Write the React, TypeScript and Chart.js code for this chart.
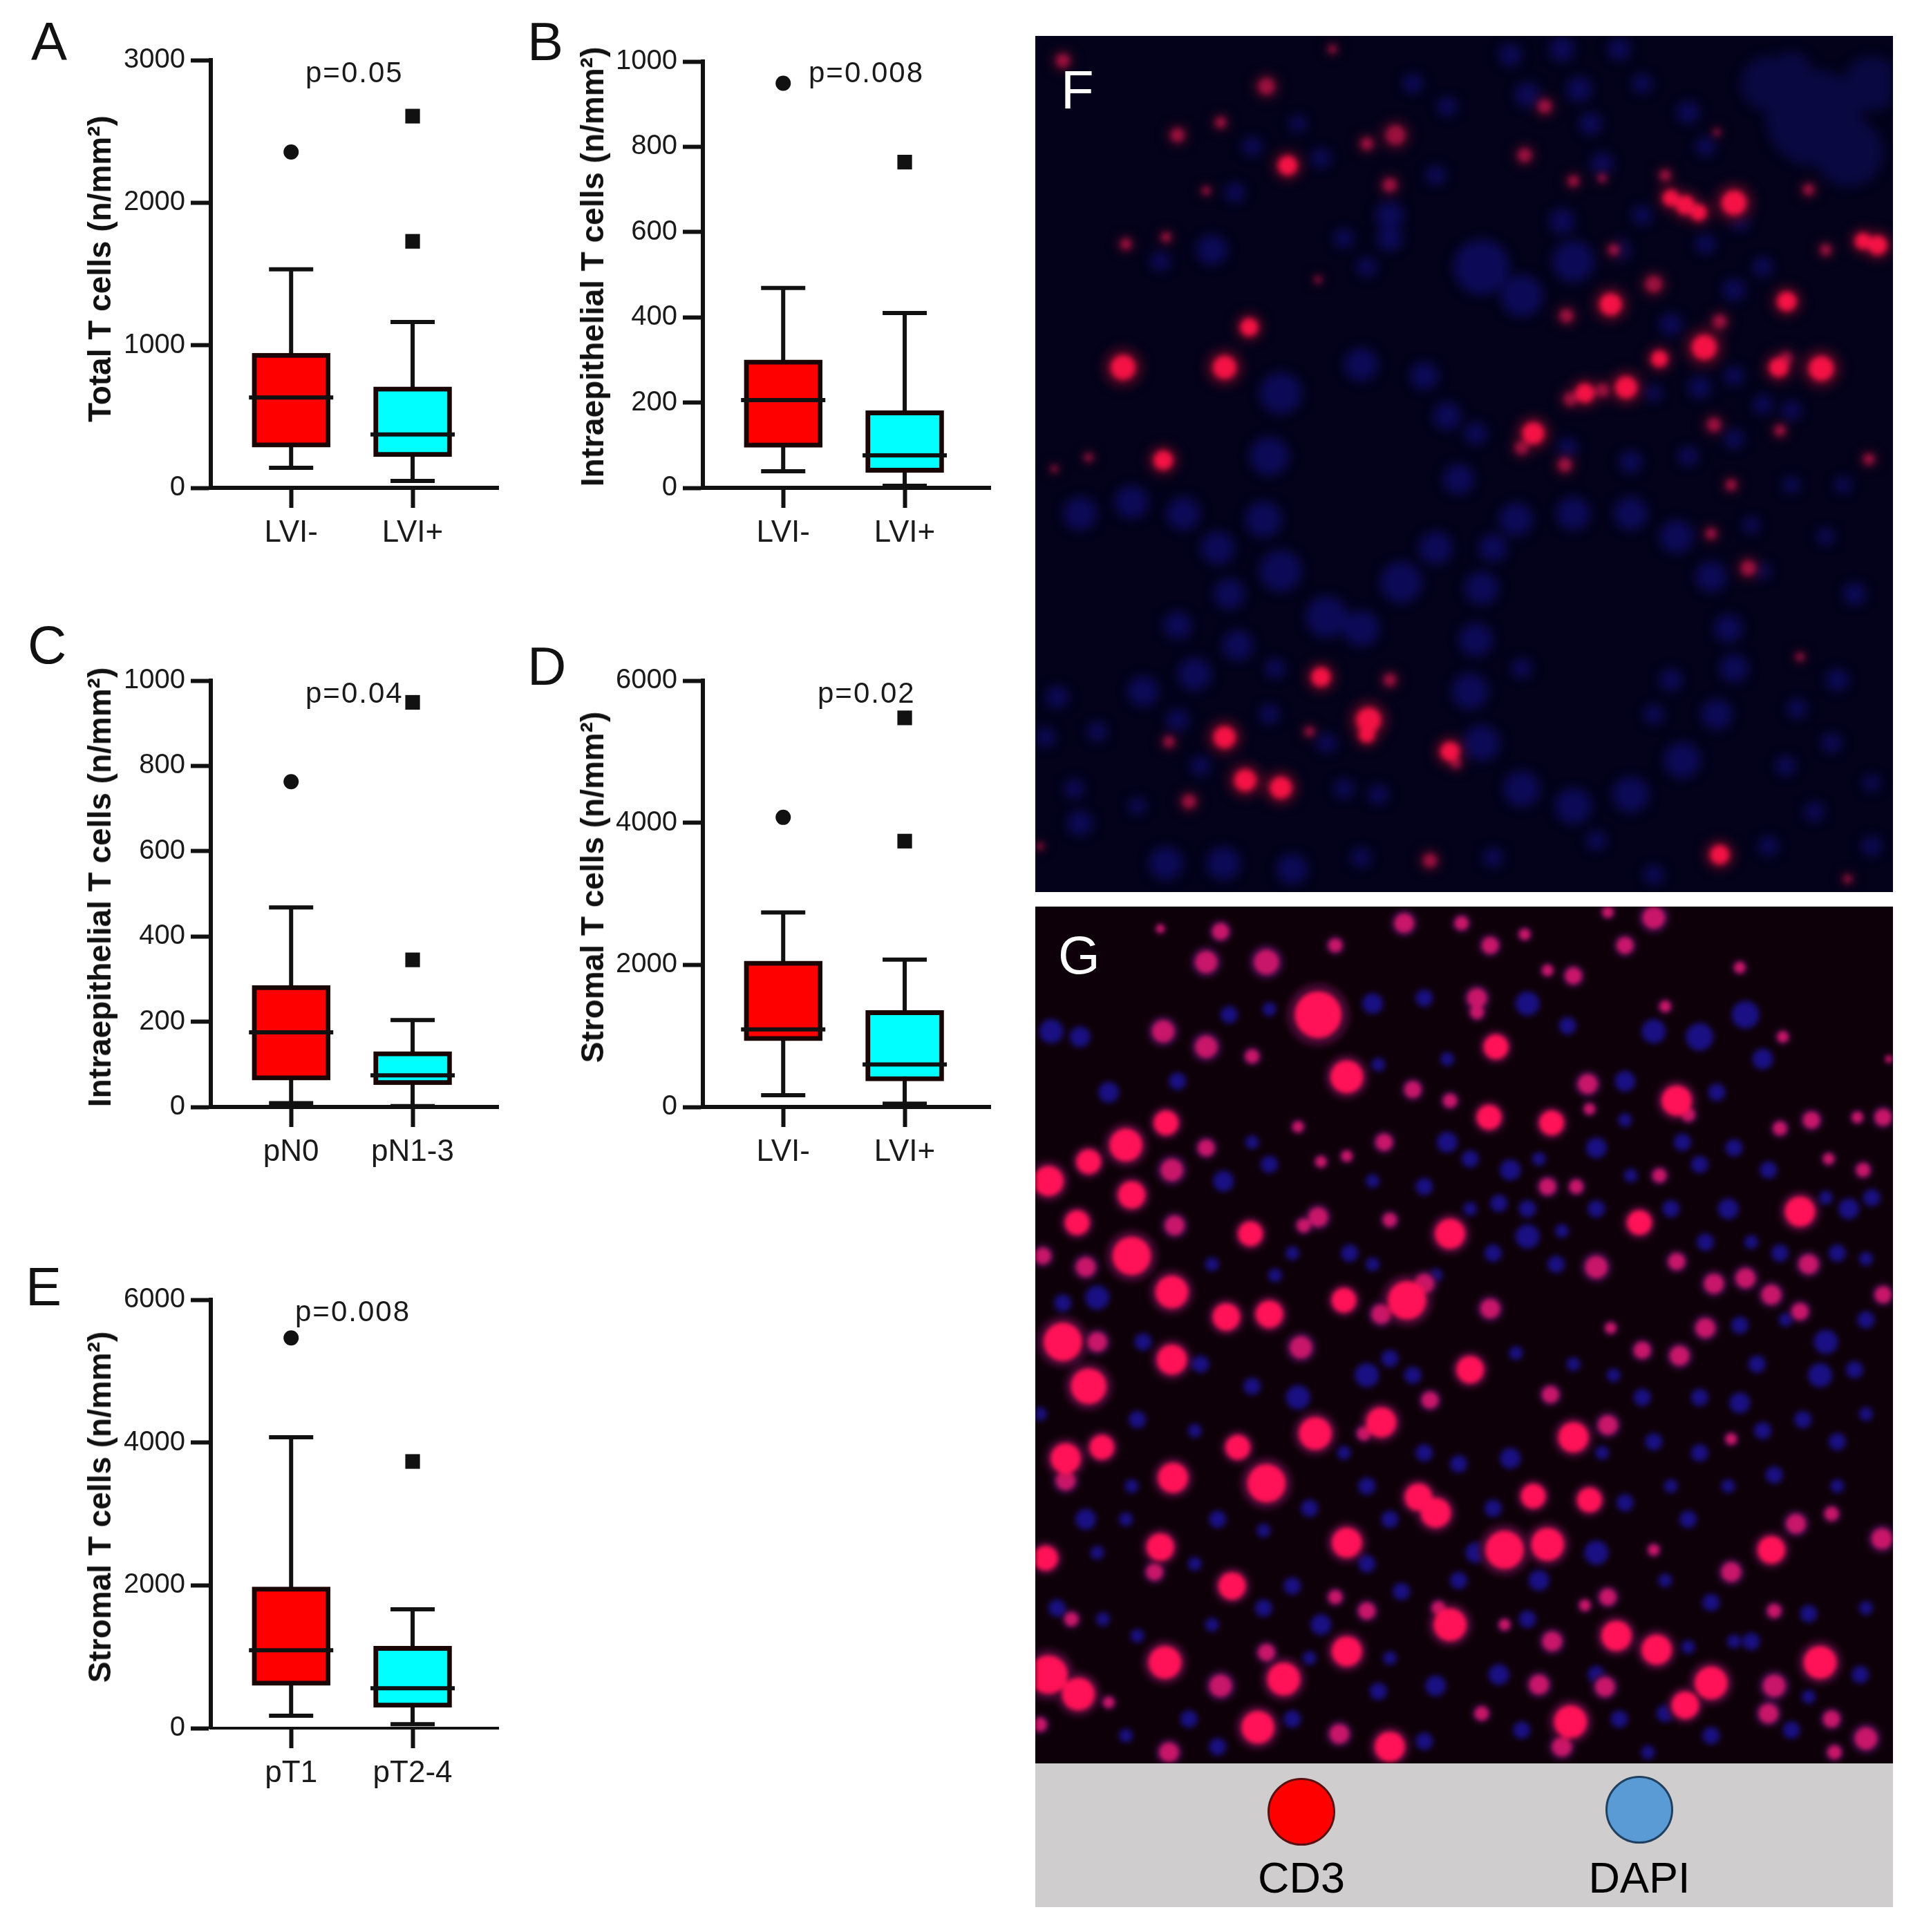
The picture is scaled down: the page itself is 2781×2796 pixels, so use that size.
import React, { useEffect, useRef } from "react";
import { Chart, registerables } from "chart.js";

Chart.register(...registerables);

// values, one small list per statistic
const aLabels = ["LVI-", "LVI+"];
const aLow = [141, 49];
const aQ1 = [285, 218];
const aMedian = [634, 375];
const aQ3 = [945, 709];
const aHigh = [1533, 1163];
const aOutliers = [[2355], [2607, 1729]];

const bLabels = ["LVI-", "LVI+"];
const bLow = [39, 5];
const bQ1 = [95, 36];
const bMedian = [206, 76];
const bQ3 = [300, 181];
const bHigh = [469, 410];
const bOutliers = [[949], [764]];

const cLabels = ["pN0", "pN1-3"];
const cLow = [9, 2];
const cQ1 = [63, 52];
const cMedian = [175, 74];
const cQ3 = [285, 130];
const cHigh = [468, 204];
const cOutliers = [[763], [949, 345]];

const dLabels = ["LVI-", "LVI+"];
const dLow = [165, 46];
const dQ1 = [931, 365];
const dMedian = [1091, 597];
const dQ3 = [2053, 1359];
const dHigh = [2738, 2074];
const dOutliers = [[4076], [5476, 3741]];

const eLabels = ["pT1", "pT2-4"];
const eLow = [174, 56];
const eQ1 = [599, 292];
const eMedian = [1091, 558];
const eQ3 = [1978, 1148];
const eHigh = [4073, 1665];
const eOutliers = [[5466], [3735]];

// stained cells of the two micrographs: [x, y, r]
const fBright = [
  [1240, 318, 18], [1332, 490, 14], [1130, 310, 12], [1155, 322, 14], [1178, 335, 12], [1465, 385, 12],
  [1490, 392, 14], [462, 253, 14], [352, 605, 17], [175, 605, 18], [245, 767, 14], [1025, 495, 16],
  [1188, 570, 18], [1318, 605, 14], [1392, 607, 18], [1052, 640, 16], [980, 650, 14], [890, 720, 16],
  [1110, 590, 12], [603, 1220, 18], [600, 1245, 12], [745, 1275, 14], [520, 1145, 14], [352, 1250, 16],
  [388, 1325, 16], [450, 1338, 16], [1215, 1455, 14], [395, 535, 13],
];
const fDim = [
  [1330, 590, 10], [955, 660, 10], [1010, 645, 10], [870, 745, 10], [948, 515, 10], [755, 1295, 8],
  [290, 1362, 10], [1265, 955, 11], [710, 1465, 10], [640, 287, 10], [910, 150, 10], [875, 235, 10],
  [425, 115, 12], [650, 200, 14], [1200, 895, 8], [1100, 460, 12], [1215, 525, 10], [1370, 295, 8],
  [1400, 400, 8], [1205, 705, 10], [1320, 715, 8], [1235, 810, 8], [1475, 765, 8], [945, 775, 10],
  [345, 178, 8], [250, 378, 7], [115, 762, 6], [55, 782, 5], [515, 452, 5], [320, 297, 6],
  [1210, 195, 5], [1120, 270, 8], [1030, 400, 8], [960, 280, 8], [1010, 275, 6], [600, 215, 9],
  [270, 200, 10], [180, 390, 8], [640, 1150, 9], [500, 1240, 7], [255, 1258, 8], [1438, 1497, 6],
  [1355, 1110, 6], [30, 1440, 5], [70, 70, 10], [540, 50, 6],
];
const fPatch = [
  [1380, 170, 70], [1440, 230, 50], [1300, 110, 40], [1480, 110, 40], [1340, 90, 30],
];
const fNuclei = [
  [850, 60, 16],
  [940, 50, 18], [1040, 50, 16], [970, 120, 18], [880, 130, 18], [990, 180, 16], [1080, 110, 14],
  [1160, 160, 16], [1190, 220, 14], [680, 110, 14], [740, 150, 14], [720, 270, 14], [640, 340, 20],
  [560, 380, 14], [330, 400, 22], [240, 420, 14], [370, 300, 14], [400, 220, 14], [480, 180, 12],
  [520, 240, 14], [600, 430, 14], [640, 380, 18], [1010, 250, 16], [940, 350, 18], [1040, 400, 16],
  [960, 420, 30], [800, 430, 40], [870, 480, 30], [1080, 340, 14], [1190, 390, 14], [1250, 350, 14],
  [1290, 430, 14], [1240, 470, 16], [1130, 530, 16], [1240, 620, 14], [1180, 640, 16], [1290, 670, 14],
  [1340, 680, 14], [1100, 650, 12], [1060, 770, 16], [950, 745, 14], [1160, 760, 14], [1240, 730, 14],
  [1270, 880, 12], [1290, 960, 12], [1340, 810, 12], [1430, 810, 12], [1400, 900, 12], [1450, 1000, 16],
  [790, 720, 16], [450, 650, 30], [590, 600, 24], [430, 760, 28], [420, 870, 26], [450, 960, 30],
  [530, 1040, 30], [590, 1060, 26], [660, 980, 30], [720, 920, 24], [760, 800, 22], [740, 690, 20],
  [700, 620, 20], [100, 860, 24], [190, 840, 24], [280, 860, 24], [340, 920, 24], [360, 1000, 22],
  [375, 1090, 22], [270, 1055, 20], [60, 1180, 16], [210, 1170, 22], [300, 1140, 24], [270, 1220, 16],
  [40, 1250, 14], [130, 1240, 14], [310, 1300, 14], [860, 870, 24], [960, 860, 24], [1060, 860, 24],
  [1140, 900, 24], [1200, 970, 22], [1230, 1060, 20], [1240, 1130, 20], [1210, 1210, 22], [1150, 1290, 26],
  [1060, 1350, 26], [960, 1370, 26], [870, 1340, 26], [800, 1260, 26], [780, 1170, 26], [790, 1080, 24],
  [800, 990, 24], [820, 920, 20], [870, 1130, 14], [1130, 1150, 16], [1100, 1210, 14], [1350, 1200, 14],
  [1420, 1150, 16], [1330, 1300, 14], [1410, 1260, 14], [1480, 1330, 12], [1380, 1380, 14], [100, 1400, 18],
  [200, 1370, 12], [90, 1340, 14], [250, 1470, 24], [350, 1470, 24], [470, 1480, 22], [590, 1460, 14],
  [620, 1350, 14], [560, 1340, 14], [820, 1460, 14], [1000, 1430, 14], [1100, 1490, 14], [1300, 1440, 14],
  [1480, 1440, 14], [530, 1260, 14], [430, 1210, 14], [440, 1130, 14],
];

const gBright = [
  [515, 210, 34], [565, 322, 24], [250, 405, 18], [115, 475, 18], [180, 445, 24], [45, 510, 22],
  [190, 535, 20], [95, 585, 18], [397, 605, 18], [190, 645, 28], [260, 710, 24], [70, 800, 28],
  [260, 832, 22], [115, 880, 26], [355, 755, 20], [430, 750, 20], [560, 725, 18], [670, 725, 28],
  [780, 850, 20], [510, 965, 24], [625, 945, 22], [375, 990, 18], [425, 1055, 28], [262, 1045, 22],
  [75, 1010, 22], [138, 990, 18], [690, 1080, 20], [720, 1108, 22], [565, 1162, 22], [840, 1175, 28],
  [915, 1165, 24], [890, 1078, 18], [988, 1085, 18], [960, 972, 22], [1305, 1175, 20], [365, 1240, 20],
  [240, 1170, 20], [40, 1190, 18], [745, 1310, 24], [1035, 1330, 22], [1105, 1355, 22], [1390, 1378, 24],
  [1200, 1415, 24], [1155, 1455, 20], [955, 1485, 24], [565, 1358, 22], [455, 1408, 24], [248, 1378, 24],
  [45, 1400, 28], [97, 1435, 24], [410, 1495, 24], [640, 1530, 22], [813, 395, 18], [922, 405, 18],
  [1140, 365, 22], [825, 268, 18], [1075, 585, 18], [1355, 565, 22], [745, 605, 22],
];
const gMid = [
  [320, 115, 16], [425, 115, 18], [245, 240, 16], [320, 268, 16], [260, 490, 16], [265, 590, 14],
  [35, 645, 12], [110, 665, 14], [130, 800, 14], [485, 810, 16], [700, 695, 14], [625, 750, 14],
  [815, 740, 14], [595, 965, 10], [75, 1050, 14], [1020, 950, 14], [1348, 1128, 14], [1498, 1155, 15],
  [1235, 1215, 14], [230, 1215, 12], [725, 1280, 10], [940, 1530, 14], [1310, 1420, 16], [1410, 1480, 12],
  [345, 1420, 16], [552, 1507, 14], [800, 1470, 10], [1470, 1515, 16], [1415, 1540, 10], [900, 1418, 14],
  [1015, 1422, 14], [923, 1340, 14], [1300, 1470, 14], [425, 1360, 12], [545, 1260, 10], [600, 1285, 12],
  [85, 1300, 10], [150, 1450, 8], [255, 1540, 14], [30, 1490, 10], [985, 335, 14], [988, 380, 8],
  [1160, 390, 10], [680, 345, 12], [745, 365, 10], [792, 180, 14], [792, 205, 10], [915, 520, 12],
  [965, 520, 10], [1110, 500, 10], [1370, 660, 14], [1500, 715, 12], [1305, 715, 14], [1355, 745, 12],
  [1260, 685, 14], [1205, 695, 14], [1000, 665, 16], [1140, 655, 12], [1190, 775, 14], [1145, 825, 14],
  [1080, 815, 12], [1025, 775, 8], [920, 895, 12], [710, 905, 12], [515, 575, 14], [490, 590, 10],
  [640, 580, 10], [630, 440, 12], [480, 412, 8], [565, 465, 8], [520, 475, 8], [1375, 400, 12],
  [1320, 415, 10], [1500, 395, 12], [1455, 395, 8], [1250, 125, 8], [1325, 250, 8], [1510, 290, 5],
  [1050, 85, 12], [1100, 35, 16], [1020, 25, 8], [875, 65, 8], [815, 85, 12], [765, 45, 10],
  [665, 45, 14], [545, 85, 10], [345, 60, 12], [240, 55, 6], [960, 140, 12], [915, 130, 8],
  [1120, 195, 8], [400, 285, 10], [320, 450, 12], [1465, 490, 10], [1405, 470, 8], [1235, 975, 8],
  [1310, 1285, 10], [1410, 1110, 10], [1100, 1175, 8], [1020, 1260, 12], [980, 1275, 8], [840, 1310, 8],
];
const gNuclei = [
  [100, 250, 12], [50, 240, 14], [150, 350, 12], [270, 330, 10], [360, 210, 10], [430, 200, 8],
  [610, 190, 12], [700, 180, 10], [620, 300, 8], [740, 290, 8], [880, 190, 14], [950, 230, 10],
  [1050, 330, 12], [1100, 240, 14], [1180, 250, 16], [1260, 210, 16], [1290, 290, 12], [1210, 350, 10],
  [1240, 450, 10], [1180, 480, 10], [1300, 490, 10], [1230, 560, 12], [1000, 450, 12], [1050, 400, 8],
  [850, 490, 12], [880, 610, 14], [830, 550, 10], [930, 660, 10], [780, 470, 10], [740, 440, 12],
  [700, 520, 10], [610, 510, 8], [430, 480, 10], [400, 440, 8], [350, 510, 12], [330, 660, 8],
  [440, 680, 8], [470, 640, 8], [570, 640, 10], [610, 660, 8], [130, 720, 14], [70, 730, 10],
  [210, 800, 10], [310, 840, 10], [400, 880, 10], [480, 900, 14], [600, 860, 14], [680, 860, 10],
  [640, 830, 10], [860, 820, 8], [960, 840, 8], [1030, 860, 8], [1250, 770, 10], [1400, 800, 14],
  [1470, 760, 10], [1390, 860, 14], [1250, 910, 12], [1290, 960, 10], [1420, 980, 10], [1100, 980, 10],
  [850, 1010, 12], [760, 1020, 10], [600, 1060, 10], [500, 1100, 10], [340, 1120, 10], [110, 1120, 12],
  [190, 1060, 8], [820, 1100, 10], [790, 1180, 12], [1000, 1180, 14], [900, 1230, 12], [1160, 1120, 10],
  [1200, 1270, 10], [1120, 1230, 8], [1270, 1340, 10], [760, 1230, 10], [660, 1250, 10], [520, 1310, 12],
  [140, 1300, 8], [200, 1330, 8], [290, 1480, 10], [180, 1510, 8], [470, 1480, 10], [720, 1420, 12],
  [620, 1430, 10], [830, 1400, 12], [1040, 1480, 10], [1120, 1470, 10], [1340, 1500, 10], [1200, 1510, 10],
  [500, 1370, 8], [880, 560, 10], [900, 470, 8], [940, 600, 8], [820, 640, 10], [780, 560, 8],
  [720, 680, 8], [1000, 560, 10], [1060, 500, 8], [1150, 440, 10], [1130, 560, 10], [1190, 620, 10],
  [1270, 620, 8], [1320, 640, 10], [1420, 640, 10], [1470, 650, 8], [1440, 560, 12], [1480, 540, 10],
  [1400, 540, 8], [1280, 840, 10], [1330, 760, 8], [1450, 850, 10], [1470, 930, 8], [1360, 940, 10],
  [1180, 900, 10], [1080, 900, 10], [1010, 1000, 8], [1180, 1000, 10], [1310, 1040, 10], [1420, 1060, 8],
  [1230, 1060, 8], [1130, 1060, 8], [1050, 1090, 10], [640, 1120, 10], [560, 1000, 8], [700, 1000, 10],
  [300, 960, 8], [200, 940, 10], [30, 930, 8], [180, 1120, 8], [420, 1140, 8], [470, 1240, 10],
  [600, 1200, 10], [300, 1200, 8], [130, 1180, 8], [60, 1280, 10], [330, 1310, 8], [420, 1280, 10],
  [640, 1370, 8], [880, 1300, 10], [1000, 1400, 10], [1160, 1350, 8], [1240, 1340, 8], [1370, 1290, 10],
  [1470, 1280, 8], [1460, 1400, 10], [1370, 1440, 8], [700, 1520, 10], [870, 1500, 10], [1090, 1540, 8],
  [340, 1530, 10],
];

const FONT = '"Liberation Sans", Arial, sans-serif';
const INK = "#111";

const panels = [
  { labels: aLabels, low: aLow, q1: aQ1, median: aMedian, q3: aQ3, high: aHigh, outliers: aOutliers, max: 3000, step: 1000, axisX: 305, top: 87, height: 619, xAxisWidth: 6 },
  { labels: bLabels, low: bLow, q1: bQ1, median: bMedian, q3: bQ3, high: bHigh, outliers: bOutliers, max: 1000, step: 200, axisX: 1017, top: 89, height: 617, xAxisWidth: 6 },
  { labels: cLabels, low: cLow, q1: cQ1, median: cMedian, q3: cQ3, high: cHigh, outliers: cOutliers, max: 1000, step: 200, axisX: 305, top: 985, height: 617, xAxisWidth: 6 },
  { labels: dLabels, low: dLow, q1: dQ1, median: dMedian, q3: dQ3, high: dHigh, outliers: dOutliers, max: 6000, step: 2000, axisX: 1017, top: 985, height: 617, xAxisWidth: 6 },
  { labels: eLabels, low: eLow, q1: eQ1, median: eMedian, q3: eQ3, high: eHigh, outliers: eOutliers, max: 6000, step: 2000, axisX: 305, top: 1881, height: 620, xAxisWidth: 4 },
];

const yTitles = [
  { text: "Total T cells (n/mm²)", x: 144, y: 389 },
  { text: "Intraepithelial T cells (n/mm²)", x: 857, y: 386 },
  { text: "Intraepithelial T cells (n/mm²)", x: 144, y: 1284 },
  { text: "Stromal T cells (n/mm²)", x: 857, y: 1284 },
  { text: "Stromal T cells (n/mm²)", x: 144, y: 2181 },
];

const pValues = [
  { text: "p=0.05", x: 442, y: 119 },
  { text: "p=0.008", x: 1170, y: 119 },
  { text: "p=0.04", x: 442, y: 1017 },
  { text: "p=0.02", x: 1183, y: 1017 },
  { text: "p=0.008", x: 427, y: 1912 },
];

const letters = [
  { text: "A", x: 45, y: 86, color: "#111" },
  { text: "B", x: 763, y: 86, color: "#111" },
  { text: "C", x: 40, y: 959, color: "#111" },
  { text: "D", x: 763, y: 990, color: "#111" },
  { text: "E", x: 37, y: 1888, color: "#111" },
  { text: "F", x: 1535, y: 156, color: "#fff" },
  { text: "G", x: 1531, y: 1408, color: "#fff" },
];

const PLOT_WIDTH = 416;
const Y_AXIS_WIDTH = 150;
const PAD_TOP = 30;
const PAD_RIGHT = 20;
const X_AXIS_HEIGHT = 100;

const clearPadding = (axis: any) => {
  axis.paddingLeft = 0;
  axis.paddingRight = 0;
  axis.paddingTop = 0;
  axis.paddingBottom = 0;
};

const BoxPanel = ({ panel }: { panel: any }) => {
  const ref = useRef<HTMLCanvasElement | null>(null);

  useEffect(() => {
    if (!ref.current) return;
    const cats = [1, 2];

    const chart = new Chart(ref.current, {
      type: "bar",
      data: {
        datasets: [
          {
            type: "scatter",
            data: cats.map((c, i) => ({ x: c, y: panel.median[i] })),
            pointStyle: "line",
            pointRadius: 61,
            pointBorderWidth: 6,
            pointBorderColor: INK,
            order: 0,
            clip: false,
          },
          {
            type: "bar",
            data: cats.map((c, i) => ({ x: c, y: [panel.q1[i], panel.q3[i]] })),
            backgroundColor: ["#ff0000", "#00ffff"],
            borderColor: "#1a0505",
            borderWidth: 7,
            borderSkipped: false,
            barThickness: 113,
            order: 1,
          },
          {
            type: "scatter",
            data: panel.outliers[0].map((v: number) => ({ x: 1, y: v })),
            pointStyle: "circle",
            pointRadius: 11,
            pointBackgroundColor: INK,
            pointBorderWidth: 0,
            order: 2,
          },
          {
            type: "scatter",
            data: panel.outliers[1].map((v: number) => ({ x: 2, y: v })),
            pointStyle: "rect",
            pointRadius: 15,
            pointBackgroundColor: INK,
            pointBorderWidth: 0,
            order: 2,
          },
          {
            type: "scatter",
            data: cats.flatMap((c, i) => [
              { x: c, y: panel.low[i] },
              { x: c, y: panel.high[i] },
            ]),
            pointStyle: "line",
            pointRadius: 32,
            pointBorderWidth: 6,
            pointBorderColor: INK,
            order: 3,
            clip: false,
          },
          ...cats.map((c, i) => ({
            type: "line" as const,
            data: [
              { x: c, y: panel.low[i] },
              { x: c, y: panel.high[i] },
            ],
            borderColor: INK,
            borderWidth: 6,
            pointRadius: 0,
            order: 4,
            clip: false,
          })),
        ] as any,
      },
      options: {
        animation: false,
        responsive: false,
        devicePixelRatio: 1,
        events: [],
        layout: { autoPadding: false, padding: { left: 0, top: PAD_TOP, right: PAD_RIGHT, bottom: 0 } },
        plugins: { legend: { display: false }, tooltip: { enabled: false } },
        scales: {
          x: {
            type: "linear",
            offset: false,
            min: 0.339,
            max: 2.705,
            afterBuildTicks: (axis: any) => {
              axis.ticks = cats.map((value) => ({ value }));
            },
            afterFit: (axis: any) => {
              axis.height = X_AXIS_HEIGHT;
              clearPadding(axis);
            },
            grid: {
              offset: false,
              drawOnChartArea: false,
              tickLength: 29,
              tickWidth: 6,
              tickColor: INK,
            },
            border: { display: true, color: INK, width: panel.xAxisWidth },
            ticks: {
              autoSkip: false,
              maxRotation: 0,
              minRotation: 0,
              padding: 10,
              color: "#1a1a1a",
              font: { family: FONT, size: 44 },
              callback: (value: any) => panel.labels[Number(value) - 1] ?? "",
            },
          },
          y: {
            min: 0,
            max: panel.max,
            afterFit: (axis: any) => {
              axis.width = Y_AXIS_WIDTH;
              clearPadding(axis);
            },
            grid: {
              drawOnChartArea: false,
              tickLength: 29,
              tickWidth: 6,
              tickColor: INK,
            },
            border: { display: true, color: INK, width: 6 },
            ticks: {
              stepSize: panel.step,
              padding: 8,
              color: "#1a1a1a",
              font: { family: FONT, size: 40 },
              callback: (value: any) => String(value),
            },
          },
        },
      } as any,
    });

    return () => {
      chart.destroy();
    };
  }, [panel]);

  return (
    <canvas
      ref={ref}
      width={Y_AXIS_WIDTH + PLOT_WIDTH + PAD_RIGHT}
      height={panel.height + PAD_TOP + X_AXIS_HEIGHT}
      style={{ position: "absolute", left: panel.axisX - Y_AXIS_WIDTH, top: panel.top - PAD_TOP }}
    />
  );
};

const toBubbles = (list: number[][], grow = 1) => list.map(([x, y, r]) => ({ x, y, r: r * grow }));

// one soft layer of a micrograph: stained cells as bubbles
const CellLayer = ({ groups, range, height, blur, blend }: any) => {
  const ref = useRef<HTMLCanvasElement | null>(null);

  useEffect(() => {
    if (!ref.current) return;
    const chart = new Chart(ref.current, {
      type: "bubble",
      data: {
        datasets: groups.map((g: any) => ({
          data: toBubbles(g.cells, g.grow),
          backgroundColor: g.color,
          borderWidth: 0,
          clip: false,
        })),
      },
      options: {
        animation: false,
        responsive: false,
        devicePixelRatio: 1,
        events: [],
        layout: { autoPadding: false },
        plugins: { legend: { display: false }, tooltip: { enabled: false } },
        scales: {
          x: { display: false, min: 22, max: 1517 },
          y: { display: false, min: range[0], max: range[1], reverse: true },
        },
      } as any,
    });
    return () => {
      chart.destroy();
    };
  }, [groups, range]);

  return (
    <canvas
      ref={ref}
      width={1241}
      height={height}
      style={{ position: "absolute", left: 0, top: 0, filter: `blur(${blur}px)`, mixBlendMode: blend }}
    />
  );
};

const Micrograph = ({ nuclei, cells, range, top, height, ground, nucleiBlur, cellBlur }: any) => (
  <div style={{ position: "absolute", left: 1498, top, width: 1241, height, overflow: "hidden", background: ground, isolation: "isolate" }}>
    <CellLayer groups={nuclei} range={range} height={height} blur={nucleiBlur} blend="normal" />
    <CellLayer groups={cells} range={range} height={height} blur={cellBlur} blend="screen" />
  </div>
);

const fNucleiGroups = [
  { cells: fDim, color: "#3a0620", grow: 1.6 },
  { cells: fBright, color: "#4a0620", grow: 1.6 },
  { cells: fNuclei, color: "#0c0a56" },
  { cells: fPatch, color: "#090840" },
];
const fCellGroups = [
  { cells: fBright, color: "#f00c2a" },
  { cells: fDim, color: "#7c0a22" },
];
const gNucleiGroups = [
  { cells: gBright, color: "#400830", grow: 1.35 },
  { cells: gMid, color: "#3a0a40", grow: 1.4 },
  { cells: gNuclei, color: "#1a1084", grow: 1.25 },
];
const gCellGroups = [
  { cells: gBright, color: "#ff0a30" },
  { cells: gMid, color: "#b80c38" },
];
const fRange = [27, 1520];
const gRange = [15, 1560];

const Label = ({ text, x, y, size, color = "#1a1a1a", spacing = 0 }: any) => (
  <div
    style={{
      position: "absolute",
      left: x,
      top: y - size * 0.905,
      fontFamily: FONT,
      fontSize: size,
      color,
      letterSpacing: spacing,
      whiteSpace: "nowrap",
    }}
  >
    {text}
  </div>
);

const legendItems = [
  { name: "CD3", color: "#ff0000", edge: "#5a1010", x: 1883, y: 2622 },
  { name: "DAPI", color: "#5b9bd5", edge: "#1f4060", x: 2372, y: 2619 },
];

export default function App() {
  return (
    <div style={{ position: "absolute", left: 0, top: 0, width: 2781, height: 2796, background: "#fff", overflow: "hidden" }}>
      {panels.map((p, i) => (
        <BoxPanel key={i} panel={p} />
      ))}

      {yTitles.map((t, i) => (
        <div
          key={i}
          style={{
            position: "absolute",
            left: t.x,
            top: t.y,
            transform: "translate(-50%, -50%) rotate(-90deg)",
            fontFamily: FONT,
            fontWeight: "bold",
            fontSize: 46,
            color: INK,
            whiteSpace: "nowrap",
          }}
        >
          {t.text}
        </div>
      ))}

      {pValues.map((t, i) => (
        <Label key={i} text={t.text} x={t.x} y={t.y} size={42} spacing={2} />
      ))}

      <Micrograph nuclei={fNucleiGroups} cells={fCellGroups} range={fRange} top={52} height={1239} ground="#03021a" nucleiBlur={8} cellBlur={4} />
      <Micrograph nuclei={gNucleiGroups} cells={gCellGroups} range={gRange} top={1312} height={1240} ground="#0e0008" nucleiBlur={4} cellBlur={3} />

      {letters.map((t, i) => (
        <Label key={i} text={t.text} x={t.x} y={t.y} size={78} color={t.color} />
      ))}

      <div style={{ position: "absolute", left: 1498, top: 2552, width: 1241, height: 208, background: "#cfcdcd" }} />
      {legendItems.map((item) => (
        <React.Fragment key={item.name}>
          <div
            style={{
              position: "absolute",
              left: item.x - 49,
              top: item.y - 49,
              width: 98,
              height: 98,
              boxSizing: "border-box",
              borderRadius: "50%",
              background: item.color,
              border: `3px solid ${item.edge}`,
            }}
          />
          <div
            style={{
              position: "absolute",
              left: item.x - 150,
              width: 300,
              top: 2738 - 63 * 0.905,
              textAlign: "center",
              fontFamily: FONT,
              fontSize: 63,
              color: "#000",
            }}
          >
            {item.name}
          </div>
        </React.Fragment>
      ))}
    </div>
  );
}
